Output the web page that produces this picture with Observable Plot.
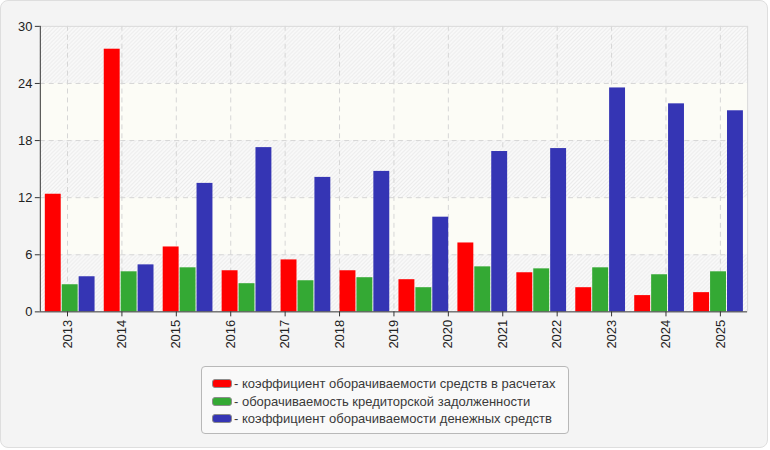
<!DOCTYPE html>
<html><head><meta charset="utf-8">
<script src="https://cdn.jsdelivr.net/npm/d3@7"></script>
<script src="https://cdn.jsdelivr.net/npm/@observablehq/plot@0.6"></script>
<style>
body{margin:0;background:#fff;font-family:"Liberation Sans",Arial,sans-serif;}
#frame{position:absolute;left:0;top:0;width:766px;height:446px;background:#f4f4f4;border:1px solid #dedede;border-radius:8px;}
#chart{position:absolute;left:0;top:0;}
#legend{position:absolute;left:200px;top:365px;width:368px;height:68px;box-sizing:border-box;border:1px solid #b8b8b8;border-radius:4px;background:#f9f9f9;padding:8px 0 0 10px;font-size:13px;color:#3a3a3a}
.item{display:flex;align-items:center;height:17.5px;white-space:nowrap}
.sw{width:18px;height:7px;border:1px solid #8c8c8c;border-radius:3px;margin-right:2px}
</style></head>
<body>
<div id="frame"><div id="chart"></div><div id="legend"></div></div>
<script>
const years = ["2013","2014","2015","2016","2017","2018","2019","2020","2021","2022","2023","2024","2025"];
const periods = [0,1,2,3,4,5,6,7,8,9,10,11];
const receivablesTurnover = [12.36, 27.6, 6.82, 4.32, 5.46, 4.32, 3.38, 7.24, 4.11, 2.54, 1.71, 2.02];
const payablesTurnover   = [2.85, 4.21, 4.63, 2.96, 3.27, 3.59, 2.54, 4.73, 4.52, 4.63, 3.90, 4.21];
const cashTurnover       = [3.69, 4.94, 13.5, 17.26, 14.13, 14.76, 9.95, 16.85, 17.16, 23.53, 21.86, 21.13];
const seriesNames = [
  "коэффициент оборачиваемости средств в расчетах",
  "оборачиваемость кредиторской задолженности",
  "коэффициент оборачиваемости денежных средств"
];
const colors = ["#ff0000", "#34a934", "#3535b4"];
const yTicks = [0, 6, 12, 18, 24, 30];

const seriesValues = [receivablesTurnover, payablesTurnover, cashTurnover];
const rows = [];
seriesValues.forEach((vals, k) => periods.forEach((p, i) => rows.push({period: p, k, value: vals[i]})));

const groupOffset = 0.085, barStep = 0.287, barWidth = 0.27;
const nP = periods.length;
const tickPos = years.map((y, j) => (j + 0.5) * nP / years.length);
const bands = d3.pairs(yTicks).map(([a, b], i) => ({y1: a, y2: b, hatched: i % 2 === 0}));

const plot = Plot.plot({
  width: 770,
  height: 350,
  marginLeft: 39,
  marginRight: 20,
  marginTop: 25,
  marginBottom: 38,
  style: {background: "transparent", fontFamily: "'Liberation Sans', Arial, sans-serif", fontSize: "13px", color: "#222"},
  x: {type: "linear", domain: [0, nP]},
  y: {domain: [0, 30]},
  marks: [
    Plot.rect(bands, {y1: "y1", y2: "y2", fill: d => d.hatched ? "url(#hatch)" : "#fcfcf6"}),
    Plot.gridY(yTicks.filter(t => t > 0 && t < 30), {stroke: "#d6d6d6", strokeOpacity: 1, strokeDasharray: "5,4"}),
    Plot.gridX(tickPos, {stroke: "#d6d6d6", strokeOpacity: 1, strokeDasharray: "5,4"}),
    Plot.ruleY([30], {stroke: "#dadada"}),
    Plot.ruleX([nP], {stroke: "#dadada"}),
    Plot.rect(rows, {
      x1: d => d.period + groupOffset + d.k * barStep,
      x2: d => d.period + groupOffset + d.k * barStep + barWidth,
      y1: 0, y2: "value",
      fill: d => colors[d.k]
    }),
    Plot.axisY(yTicks, {tickSize: 5, tickPadding: 3, label: null, stroke: "#333", fill: "#222", fontSize: 13}),
    Plot.axisX(tickPos, {tickSize: 5, tickPadding: 3, tickRotate: -90, label: null, stroke: "#333", fill: "#222", fontSize: 13,
      tickFormat: (d, i) => years[i]}),
    Plot.ruleX([0], {stroke: "#333"}),
    Plot.ruleY([0], {stroke: "#333"})
  ]
});

const svg = d3.select(plot);
const defs = svg.insert("defs", ":first-child");
const pat = defs.append("pattern").attr("id", "hatch").attr("patternUnits", "userSpaceOnUse")
  .attr("width", 4).attr("height", 4);
pat.append("rect").attr("width", 4).attr("height", 4).attr("fill", "#fbfbfb");
pat.append("path").attr("d", "M-1,1 l2,-2 M0,4 l4,-4 M3,5 l2,-2").attr("stroke", "#ebebeb").attr("stroke-width", 1.2);

document.getElementById("chart").append(plot);

const legend = d3.select("#legend");
seriesNames.forEach((name, k) => {
  const it = legend.append("div").attr("class", "item");
  it.append("div").attr("class", "sw").style("background", colors[k]);
  it.append("span").text("- " + name);
});
</script>
</body></html>
